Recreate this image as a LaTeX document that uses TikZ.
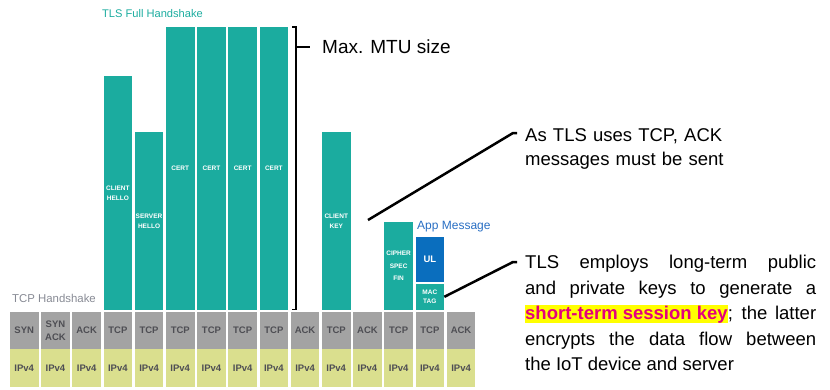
\documentclass[tikz,border=0pt]{standalone}
\usepackage{fontspec}
\setmainfont{Liberation Sans}
\usetikzlibrary{positioning}

\definecolor{tlsteal}{RGB}{27,172,159}
\definecolor{hdrgray}{RGB}{163,163,163}
\definecolor{hdrtext}{RGB}{78,78,84}
\definecolor{ipgreen}{RGB}{218,223,142}
\definecolor{ulblue}{RGB}{10,110,190}
\definecolor{appblue}{RGB}{40,110,195}
\definecolor{tcpgray}{RGB}{135,138,148}
\definecolor{hlyellow}{RGB}{255,255,0}
\definecolor{hlpink}{RGB}{228,0,124}

\begin{document}
\begin{tikzpicture}[x=1pt, y=-1pt,
    hdr/.style={fill=hdrgray, text=hdrtext, inner sep=0pt, minimum width=28.5pt, minimum height=36.5pt, align=center, font=\fontsize{9.5}{13}\selectfont\bfseries},
    ip/.style={fill=ipgreen, text=hdrtext, inner sep=0pt, minimum width=28.5pt, minimum height=38pt, font=\fontsize{9.5}{13}\selectfont\bfseries},
    seg/.style={fill=tlsteal, text=white, inner sep=0pt, minimum width=28.5pt, align=center, font=\fontsize{6.5}{10}\selectfont\bfseries},
    note/.style={anchor=north west, inner sep=0pt, font=\fontsize{18.5}{25.5}\selectfont},
    callout/.style={line width=2.5pt}
]
\useasboundingbox (0,0) rectangle (830,389);

% TCP and IPv4 headers
\foreach \lbl [count=\i from 0] in {SYN, {SYN\\ACK}, ACK, TCP, TCP, TCP, TCP, TCP, TCP, ACK, TCP, ACK, TCP, TCP, ACK} {
    \node[hdr] (tcp\i) at ({24.25+31.2*\i}, 330.25) {\lbl};
    \node[ip, below=0pt of tcp\i] (ip\i) {IPv4};
}

% TLS records
\node[seg, minimum height=234pt, above=1.75pt of tcp3] (chello) {CLIENT\\HELLO};
\node[seg, minimum height=178pt, above=1.75pt of tcp4] (shello) {SERVER\\HELLO};
\node[seg, minimum height=283pt, above=1.75pt of tcp5] (cert1) {CERT};
\node[seg, minimum height=283pt, above=1.75pt of tcp6] (cert2) {CERT};
\node[seg, minimum height=283pt, above=1.75pt of tcp7] (cert3) {CERT};
\node[seg, minimum height=283pt, above=1.75pt of tcp8] (cert4) {CERT};
\node[seg, minimum height=178pt, above=1.75pt of tcp10] (ckey) {CLIENT\\KEY};
\node[seg, minimum height=88pt, above=1.75pt of tcp12, font=\fontsize{6.5}{12.5}\selectfont\bfseries] (cspec) {CIPHER\\SPEC\\FIN};
\node[seg, minimum height=26pt, above=1.75pt of tcp13, font=\fontsize{6.5}{9}\selectfont\bfseries] (mac) {MAC\\TAG};
\node[seg, fill=ulblue, minimum height=45pt, above=1.3pt of mac, font=\fontsize{9.5}{11}\selectfont\bfseries] (ul) {UL};

% group labels
\node[anchor=base west, inner sep=0pt, text=tlsteal, font=\fontsize{11.1}{13}\selectfont] (tlslbl) at (102,17.3) {TLS Full Handshake};
\node[anchor=base west, inner sep=0pt, text=tcpgray, font=\fontsize{11.4}{13}\selectfont] (tcplbl) at (12,302.7) {TCP Handshake};
\node[anchor=base west, inner sep=0pt, text=appblue, font=\fontsize{12}{14}\selectfont] (applbl) at (417,229.3) {App Message};

% MTU bracket
\draw[line width=1.8pt] (292,27) -- (296,27) -- (296,309.5) -- (292,309.5);
\node[anchor=west, inner sep=0pt, inner xsep=12pt, font=\fontsize{19}{22}\selectfont] (mtu) at (310,47) {Max. MTU size};
\draw[line width=1.8pt] (296,47) -- (mtu.west);

% notes
\node[note, text width=300pt, align=left, font=\fontsize{18.5}{24.5}\selectfont] (ackmsg) at (525,128) {As TLS uses TCP, ACK\\messages must be sent};
\node[note, text width=291pt, align=justify] (keymsg) at (525,255) {TLS employs long-term public\linebreak
and private keys to generate a\linebreak
{\setlength{\fboxsep}{0pt}\colorbox{hlyellow}{\rule[-3pt]{0pt}{18pt}\textcolor{hlpink}{\bfseries short-term session key}}}; the latter\linebreak
encrypts the data flow between\linebreak
the IoT device and server};

\coordinate (keytip) at (368,220);
\coordinate (ackbend) at (513,133);
\coordinate (keybend) at (513,262);
\draw[callout] (keytip) -- (ackbend) -- ++(4,0);
\draw[callout] (mac.east) -- (keybend) -- ++(4,0);

\end{tikzpicture}
\end{document}
